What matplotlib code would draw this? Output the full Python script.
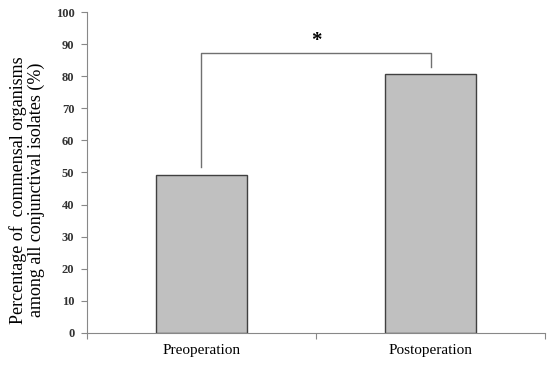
import matplotlib.pyplot as plt

categories = ['Preoperation', 'Postoperation']
values = [49.1, 80.8]
yticks = list(range(0, 101, 10))

plt.rcParams['font.family'] = ['Liberation Serif', 'DejaVu Serif']

fig = plt.figure(figsize=(5.5, 3.65), dpi=100)
ax = fig.add_axes([0.158, 0.088, 0.833, 0.879])

x = range(len(categories))
ax.bar(x, values, width=0.4, color='#c0c0c0', edgecolor='#404040', linewidth=1.0, zorder=2)

ax.set_xlim(-0.5, 1.5)
ax.set_ylim(0, 100)
ax.set_yticks(yticks)
ax.set_yticklabels([str(t) for t in yticks], fontsize=9, fontweight='bold', color='#333333')
ax.set_xticks([-0.5, 0.5, 1.5])
ax.set_xticklabels([])
ax.set_xticks(list(x), minor=True)
ax.set_xticklabels(categories, minor=True, fontsize=11)
ax.tick_params(axis='x', which='minor', length=0, pad=8)
ax.tick_params(axis='x', which='major', length=4, color='#888888', direction='out')
ax.tick_params(axis='y', length=4, color='#888888', direction='out', pad=5)

for s in ['top', 'right']:
    ax.spines[s].set_visible(False)
for s in ['left', 'bottom']:
    ax.spines[s].set_color('#888888')

ax.set_ylabel('Percentage of  commensal organisms\namong all conjunctival isolates (%)',
              fontsize=13, linespacing=1.0)
ax.yaxis.set_label_coords(-0.092, 0.445)

# significance bracket
ax.plot([0, 0, 1, 1], [51.7, 87.2, 87.2, 82.9], color='#707070', lw=1.0)
ax.text(0.5, 91, '*', ha='center', va='center', fontsize=15, fontweight='bold')

fig.savefig('out.png', dpi=100)
